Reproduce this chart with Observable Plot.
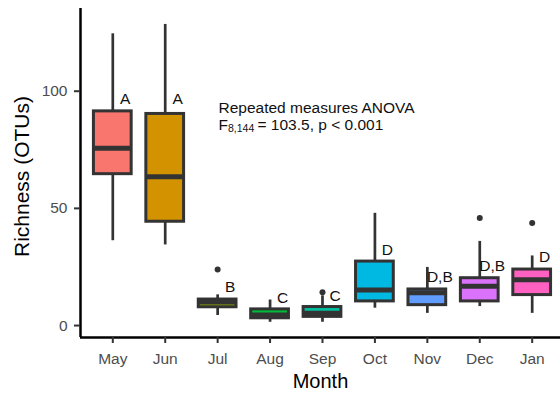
<!DOCTYPE html>
<html><head><meta charset="utf-8">
<script src="https://cdn.jsdelivr.net/npm/d3@7"></script>
<script src="https://cdn.jsdelivr.net/npm/@observablehq/plot@0.6"></script>
<style>
html,body{margin:0;padding:0;background:#fff;}
#chart svg{display:block;}
</style></head><body><div id="chart"></div>
<script>
const months = ["May","Jun","Jul","Aug","Sep","Oct","Nov","Dec","Jan"];
const whiskerLow  = [36.2, 34.4, 4.3, 1.4, 1.4, 7.4, 5.2, 8.1, 5.2];
const q1          = [64.6, 44.3, 7.8, 3.1, 3.7, 10.3, 8.7, 10.3, 13.0];
const median      = [75.7, 63.5, 10.0, 4.5, 5.3, 15.2, 14.0, 16.8, 19.5];
const q3          = [91.4, 90.3, 11.1, 6.9, 7.9, 27.3, 15.4, 20.2, 23.9];
const whiskerHigh = [124.5, 128.5, 13.1, 10.9, 12.7, 47.9, 24.8, 35.9, 29.7];
const outlierMonths = ["Jul", "Sep", "Dec", "Jan"];
const outlierValues = [23.9, 14.2, 45.9, 43.8];
const letters = ["A", "A", "B", "C", "C", "D", "D,B", "D,B", "D"];
const letterY = [96.5, 96.5, 16.6, 11.8, 12.5, 32.3, 20.6, 25.6, 29.1];
const fillColors = ["#F8766D", "#D39200", "#93AA00", "#00BA38", "#00C19F", "#00B9E3", "#619CFF", "#DB72FB", "#FF61C3"];
const yTicks = [0, 50, 100];
const annotationTitle = "Repeated measures ANOVA";
const statName = "F";
const statDf = "8,144";
const statRest = "= 103.5, p < 0.001";
const xLabel = "Month";
const yLabel = "Richness (OTUs)";

const boxes = months.map((m, i) => ({
  month: m, i,
  lo: whiskerLow[i], q1: q1[i], med: median[i], q3: q3[i], hi: whiskerHigh[i],
  letter: letters[i], ly: letterY[i]
}));
const outliers = outlierMonths.map((m, k) => ({i: months.indexOf(m), v: outlierValues[k]}));

const halfW = 0.36;
const xDomain = [-0.616, 8.54];
const yDomain = [-5.1, 135.3];
const font = "'Liberation Sans', Arial, sans-serif";

const chart = Plot.plot({
  width: 560, height: 394,
  marginLeft: 80, marginRight: 0, marginTop: 8, marginBottom: 57,
  style: {fontFamily: font, background: "white", overflow: "visible"},
  x: {domain: xDomain},
  y: {domain: yDomain},
  color: {domain: months, range: fillColors},
  marks: [
    Plot.ruleX(boxes, {x: "i", y1: "lo", y2: "hi", stroke: "#333333", strokeWidth: 2.7}),
    Plot.rect(boxes, {x1: d => d.i - halfW, x2: d => d.i + halfW, y1: "q1", y2: "q3", fill: "month", stroke: "#333333", strokeWidth: 3}),
    Plot.ruleY(boxes, {x1: d => d.i - halfW, x2: d => d.i + halfW, y: "med", stroke: "#333333", strokeWidth: 5}),
    Plot.dot(outliers, {x: "i", y: "v", r: 3, fill: "#333333", stroke: null}),
    Plot.text(boxes, {x: "i", y: "ly", text: "letter", textAnchor: "middle", dx: 12.5, fontSize: 15.5, fill: "#111"}),
    Plot.ruleX([xDomain[0]], {stroke: "black", strokeWidth: 2.5}),
    Plot.ruleY([yDomain[0]], {stroke: "black", strokeWidth: 2.5}),
    Plot.axisX({ticks: months.map((m, i) => i), tickFormat: i => months[i], tickSize: 6, tickPadding: 9, fontSize: 15.5, stroke: "#333333", strokeWidth: 2, fill: "#4D4D4D", label: null}),
    Plot.axisY({ticks: yTicks, tickSize: 6, tickPadding: 7, fontSize: 15.5, stroke: "#333333", strokeWidth: 2, fill: "#4D4D4D", label: null}),
    Plot.text([xLabel], {frameAnchor: "bottom", lineAnchor: "bottom", dy: 50.7, fontSize: 20, fill: "black"}),
    Plot.text([yLabel], {frameAnchor: "left", textAnchor: "middle", rotate: -90, lineAnchor: "bottom", dx: -52, dy: 3.5, fontSize: 21, fill: "black"}),
    Plot.text([annotationTitle], {frameAnchor: "top-left", textAnchor: "start", lineAnchor: "bottom", dx: 138, dy: 104.3, fontSize: 15.5, fill: "#111"}),
    Plot.text([statName], {frameAnchor: "top-left", textAnchor: "start", lineAnchor: "bottom", dx: 138, dy: 121.3, fontSize: 15.5, fill: "#111"}),
    Plot.text([statDf], {frameAnchor: "top-left", textAnchor: "start", lineAnchor: "bottom", dx: 147.5, dy: 123, fontSize: 10.5, fill: "#111"}),
    Plot.text([statRest], {frameAnchor: "top-left", textAnchor: "start", lineAnchor: "bottom", dx: 177, dy: 121.3, fontSize: 15.5, fill: "#111"})
  ]
});
document.getElementById("chart").appendChild(chart);
</script>
</body></html>
